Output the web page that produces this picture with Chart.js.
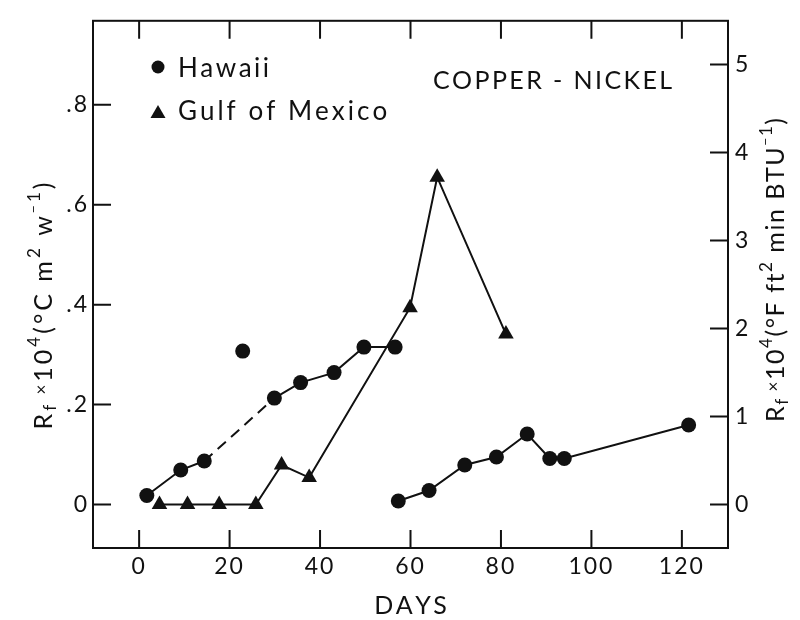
<!DOCTYPE html>
<html>
<head>
<meta charset="utf-8">
<script src="https://cdn.jsdelivr.net/npm/chart.js@4"></script>
<style>
  html, body { margin: 0; padding: 0; background: #fff; }
</style>
</head>
<body>
<canvas id="chart" width="800" height="620"></canvas>
<script>
// ---------------------------------------------------------------
// Data (days, Rf x 10^4 in °C m² W⁻¹)
// ---------------------------------------------------------------
var X_TICKS  = [0, 20, 40, 60, 80, 100, 120];
var Y_TICKS  = [0, 0.2, 0.4, 0.6, 0.8];
var Y2_TICKS = [0, 1, 2, 3, 4, 5];

var hawaiiDaysA  = [1.7, 9.2, 14.4, 29.9, 35.7, 43.1, 49.7, 56.6];
var hawaiiValsA  = [0.018, 0.069, 0.087, 0.213, 0.244, 0.264, 0.315, 0.315];
var hawaiiDaysOdd = [22.9];
var hawaiiValsOdd = [0.307];
var hawaiiDaysB  = [57.3, 64.1, 72.0, 79.0, 85.8, 90.8, 94.0, 121.5];
var hawaiiValsB  = [0.007, 0.028, 0.079, 0.095, 0.141, 0.092, 0.092, 0.159];
var gulfDays     = [4.5, 10.7, 17.7, 25.8, 31.5, 37.6, 59.9, 65.9, 81.1];
var gulfVals     = [0, 0, 0, 0, 0.079, 0.054, 0.394, 0.655, 0.341];

var DASHED_FROM = 2;       // segment after the 3rd Hawaii point is dashed
var SI_TO_ENG   = 5.678;   // factor between left and right axis units

var X_MIN = -10.2, X_MAX = 130.2;
var Y_MIN = -0.087, Y_MAX = 0.968;

var FONT = 'Lato, "Open Sans", sans-serif';
var INK  = '#111';

function pts( xs, ys ) {
  return xs.map( function ( x, i ) { return { x: x, y: ys[ i ] }; } );
}

function fixTicks( list ) {
  return function ( scale ) {
    scale.ticks = list.map( function ( v ) { return { value: v }; } );
  };
}

// text drawn char by char with extra spacing
function spaced( ctx, text, x, y, gap, align ) {
  var w = 0, i;
  for ( i = 0; i < text.length; i++ ) { w += ctx.measureText( text[ i ] ).width + ( i ? gap : 0 ); }
  var cx = align === 'center' ? x - w / 2 : x;
  for ( i = 0; i < text.length; i++ ) {
    ctx.fillText( text[ i ], cx, y );
    cx += ctx.measureText( text[ i ] ).width + gap;
  }
  return w;
}

// pieces: [text, size, baseline shift]; stretched to a target length
function drawRich( ctx, parts, x, y, target ) {
  var total = 0, n = 0;
  parts.forEach( function ( p ) {
    ctx.font = p[1] + 'px ' + FONT;
    for ( var i = 0; i < p[0].length; i++ ) { total += ctx.measureText( p[0][ i ] ).width; n++; }
  } );
  var gap = Math.max( 0, ( target - total ) / ( n - 1 ) );
  var cx = x - target / 2;
  parts.forEach( function ( p ) {
    ctx.font = p[1] + 'px ' + FONT;
    for ( var i = 0; i < p[0].length; i++ ) {
      ctx.fillText( p[0][ i ], cx, y + p[2] );
      cx += ctx.measureText( p[0][ i ] ).width + gap;
    }
  } );
}

// ---------------------------------------------------------------
// Frame, inward ticks, legend and titles
// ---------------------------------------------------------------
var decor = {
  id: 'decor',
  beforeDraw: function ( chart ) {
    if ( 'letterSpacing' in chart.ctx ) { chart.ctx.letterSpacing = '2px'; }
  },
  afterDraw: function ( chart ) {
    var ctx = chart.ctx;
    var a = chart.chartArea;
    var sx = chart.scales.x, sy = chart.scales.y, sy2 = chart.scales.y2;
    var T = 18;

    if ( 'letterSpacing' in ctx ) { ctx.letterSpacing = '0px'; }
    ctx.save();
    ctx.strokeStyle = INK;
    ctx.fillStyle = INK;
    ctx.lineWidth = 2;
    ctx.strokeRect( a.left, a.top, a.right - a.left, a.bottom - a.top );

    ctx.beginPath();
    X_TICKS.forEach( function ( v ) {
      var px = sx.getPixelForValue( v );
      ctx.moveTo( px, a.bottom ); ctx.lineTo( px, a.bottom - T );
      ctx.moveTo( px, a.top );    ctx.lineTo( px, a.top + T );
    } );
    Y_TICKS.forEach( function ( v ) {
      var py = sy.getPixelForValue( v );
      ctx.moveTo( a.left, py ); ctx.lineTo( a.left + T, py );
    } );
    Y2_TICKS.forEach( function ( v ) {
      var py = sy2.getPixelForValue( v );
      ctx.moveTo( a.right, py ); ctx.lineTo( a.right - T, py );
    } );
    ctx.stroke();

    // legend
    ctx.beginPath();
    ctx.arc( 158, 67, 6.5, 0, Math.PI * 2 );
    ctx.fill();
    ctx.beginPath();
    ctx.moveTo( 158, 105 ); ctx.lineTo( 165.5, 118 ); ctx.lineTo( 150.5, 118 );
    ctx.closePath();
    ctx.fill();

    ctx.textAlign = 'left';
    ctx.textBaseline = 'alphabetic';
    ctx.font = '26px ' + FONT;
    spaced( ctx, 'Hawaii', 178, 77, 2.5 );
    spaced( ctx, 'Gulf of Mexico', 178, 120, 3 );
    ctx.font = '25px ' + FONT;
    spaced( ctx, 'COPPER - NICKEL', 433, 89, 2.4 );

    // x title
    ctx.font = '25px ' + FONT;
    spaced( ctx, 'DAYS', ( a.left + a.right ) / 2, 614, 2.5, 'center' );

    // rotated y titles
    ctx.save();
    ctx.translate( 52, 306 );
    ctx.rotate( -Math.PI / 2 );
    drawRich( ctx, [
      [ 'R', 25, 0 ], [ 'f', 17, 4 ], [ ' \u00d7', 17, -5 ], [ '10', 25, 0 ], [ '4', 17, -12 ],
      [ '(\u00b0C m', 25, 0 ], [ '2', 17, -12 ], [ ' w', 25, 0 ], [ '\u2212', 14, -14 ], [ '1', 17, -12 ], [ ')', 25, 0 ]
    ], 0, 0, 247 );
    ctx.restore();

    ctx.save();
    ctx.translate( 784, 270 );
    ctx.rotate( -Math.PI / 2 );
    drawRich( ctx, [
      [ 'R', 25, 0 ], [ 'f', 17, 4 ], [ ' \u00d7', 17, -5 ], [ '10', 25, 0 ], [ '4', 17, -12 ],
      [ '(\u00b0F ft', 25, 0 ], [ '2', 17, -12 ], [ ' min BTU', 25, 0 ], [ '\u2212', 14, -14 ], [ '1', 17, -12 ], [ ')', 25, 0 ]
    ], 0, 0, 304 );
    ctx.restore();

    ctx.restore();
  }
};

var lineBase = {
  borderColor: INK,
  backgroundColor: INK,
  borderWidth: 2,
  pointBorderWidth: 0,
  pointHoverRadius: 8,
  tension: 0,
};

new Chart( document.getElementById( 'chart' ), {
  type: 'scatter',
  data: {
    datasets: [
      Object.assign( {}, lineBase, {
        label: 'Hawaii',
        data: pts( hawaiiDaysA, hawaiiValsA ),
        showLine: true,
        pointStyle: 'circle',
        pointRadius: 7.5,
        segment: {
          borderDash: function ( c ) { return c.p0DataIndex === DASHED_FROM ? [ 11, 7 ] : undefined; }
        }
      } ),
      Object.assign( {}, lineBase, {
        label: 'Hawaii (isolated)',
        data: pts( hawaiiDaysOdd, hawaiiValsOdd ),
        showLine: false,
        pointStyle: 'circle',
        pointRadius: 7.5
      } ),
      Object.assign( {}, lineBase, {
        label: 'Hawaii (2nd run)',
        data: pts( hawaiiDaysB, hawaiiValsB ),
        showLine: true,
        pointStyle: 'circle',
        pointRadius: 7.5
      } ),
      Object.assign( {}, lineBase, {
        label: 'Gulf of Mexico',
        data: pts( gulfDays, gulfVals ),
        showLine: true,
        pointStyle: 'triangle',
        pointRadius: 9
      } )
    ]
  },
  options: {
    responsive: false,
    animation: false,
    layout: { padding: { top: 13, left: 0, right: 0, bottom: 0 } },
    plugins: {
      legend: { display: false },
      tooltip: { enabled: false }
    },
    scales: {
      x: {
        type: 'linear',
        min: X_MIN, max: X_MAX,
        afterBuildTicks: fixTicks( X_TICKS ),
        afterFit: function ( s ) { s.height = 72; },
        grid: { display: false, drawTicks: false },
        border: { display: false },
        ticks: { color: INK, font: { family: FONT, size: 23 }, padding: 5, maxRotation: 0 }
      },
      y: {
        type: 'linear',
        position: 'left',
        min: Y_MIN, max: Y_MAX,
        afterBuildTicks: fixTicks( Y_TICKS ),
        afterFit: function ( s ) { s.width = 93; },
        grid: { display: false, drawTicks: false },
        border: { display: false },
        ticks: {
          color: INK, font: { family: FONT, size: 23 }, padding: 4,
          callback: function ( v ) { return v === 0 ? '0' : String( v.toFixed( 1 ) ).replace( /^0/, '' ); }
        }
      },
      y2: {
        type: 'linear',
        position: 'right',
        min: Y_MIN * SI_TO_ENG, max: Y_MAX * SI_TO_ENG,
        afterBuildTicks: fixTicks( Y2_TICKS ),
        afterFit: function ( s ) { s.width = 72; },
        grid: { display: false, drawTicks: false },
        border: { display: false },
        ticks: { color: INK, font: { family: FONT, size: 23 }, padding: 7 }
      }
    }
  },
  plugins: [ decor ]
} );
</script>
</body>
</html>
